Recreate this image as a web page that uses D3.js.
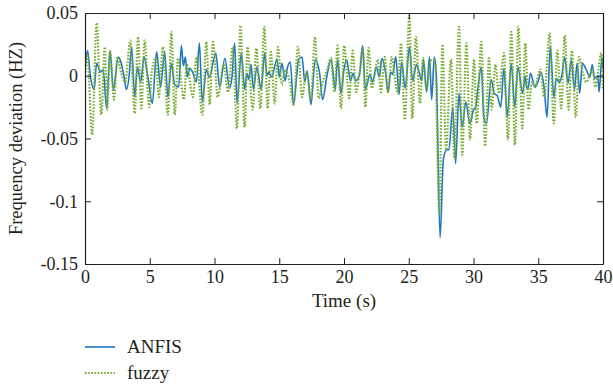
<!DOCTYPE html>
<html>
<head>
<meta charset="utf-8">
<script src="https://cdn.jsdelivr.net/npm/d3@7"></script>
<style>
  html, body { margin: 0; padding: 0; background: #fff; }
  text { font-family: "Liberation Serif", "DejaVu Serif", serif; fill: #231f20; }
</style>
</head>
<body>
<div id="chart"></div>
<script>
// ─── Data (extrema of each trace) ───────────────────────────────
const anfisT = [0,0.2,0.4,0.7,0.9,1.2,1.4,1.67,1.93,2.19,2.57,2.8,3.0,3.2,3.4,3.6,3.84,4.04,4.3,4.56,4.86,5.2,5.53,5.84,6.15,6.4,6.67,6.92,7.23,7.44,7.6,7.75,7.9,8.08,8.3,8.6,8.83,9.06,9.37,9.6,10.1,10.4,10.8,11.17,11.35,11.56,11.74,12.07,12.33,12.5,12.65,12.82,13.0,13.28,13.6,13.87,14.05,14.2,14.4,14.83,15.0,15.2,15.45,15.6,15.85,16.1,16.5,16.76,16.97,17.15,17.45,17.78,18.1,18.35,18.7,19.0,19.33,19.5,19.77,20.0,20.2,20.5,20.7,20.9,21.2,21.44,21.65,22.0,22.2,22.5,22.73,22.92,23.2,23.42,23.6,23.75,24.0,24.25,24.45,24.73,25.05,25.3,25.6,25.8,26.0,26.13,26.38,26.6,26.77,26.97,27.13,27.42,27.67,27.93,28.1,28.4,28.62,28.88,29.13,29.4,29.73,30.0,30.17,30.3,30.6,30.8,31.0,31.37,31.6,31.84,32.1,32.35,32.6,32.92,33.18,33.43,33.8,33.98,34.1,34.2,34.4,34.75,35.0,35.2,35.45,35.68,35.93,36.2,36.4,36.6,36.8,37.04,37.3,37.55,37.8,38.0,38.2,38.4,38.7,39.0,39.17,39.35,39.6,39.7,39.92,40];
const anfisV = [0.005,0.020,0.001,-0.011,0.010,0.003,0.005,-0.026,0.020,-0.011,0.015,0.010,0.0,-0.011,-0.001,0.023,-0.017,0.007,-0.005,0.015,-0.001,-0.022,0.019,-0.009,0.019,-0.017,0.010,-0.007,-0.009,0.024,0.008,0.015,-0.001,0.006,0.003,-0.005,0.026,-0.021,0.005,-0.001,0.018,-0.009,0.014,-0.010,-0.001,0.026,-0.022,0.018,-0.011,0.002,-0.003,0.009,-0.011,0.007,-0.011,0.018,0.0,0.003,-0.001,0.013,-0.001,0.010,-0.004,0.005,0.011,-0.023,0.013,0.015,-0.005,0.004,-0.023,0.013,0.003,-0.019,0.001,0.013,-0.011,0.013,-0.014,0.005,0.013,-0.004,0.002,-0.004,0.001,0.024,-0.011,0.001,-0.005,0.007,-0.001,0.014,0.003,-0.013,0.003,0.001,0.015,-0.015,0.011,-0.010,0.023,-0.004,0.009,0.003,-0.004,0.013,-0.013,0.015,-0.019,0.015,0.0,-0.129,-0.067,-0.059,-0.059,-0.025,-0.070,-0.014,-0.041,-0.021,-0.038,-0.027,-0.025,-0.014,0.007,-0.033,-0.038,-0.003,-0.014,-0.016,-0.025,0.006,-0.033,0.010,-0.025,0.007,-0.014,0.0,-0.009,-0.011,0.002,-0.009,-0.004,0.003,-0.009,-0.033,0.024,-0.017,-0.002,-0.005,-0.001,0.015,-0.006,0.013,-0.011,0.010,-0.014,0.010,0.005,-0.001,0.009,-0.002,0.0,-0.013,0.015,0.005];

const fuzzyT = [0,0.18,0.55,0.9,1.26,1.52,1.72,1.93,2.24,2.5,2.8,3.1,3.5,3.84,4.1,4.35,4.6,4.96,5.15,5.46,5.7,6.02,6.4,6.67,6.93,7.18,7.64,7.85,8.34,8.6,9.06,9.37,9.63,9.88,10.25,10.7,11.05,11.4,11.74,12.0,12.33,12.55,12.95,13.23,13.54,13.85,14.1,14.35,14.65,14.9,15.2,15.45,15.8,16.1,16.45,16.76,17.1,17.45,17.76,18.04,18.35,18.7,19.0,19.25,19.51,19.77,20.02,20.4,20.67,20.93,21.2,21.45,21.65,21.9,22.15,22.6,22.85,23.15,23.38,23.7,23.9,24.15,24.4,24.7,25.05,25.27,25.55,25.87,26.1,26.38,26.7,27.03,27.36,27.6,27.88,28.26,28.52,28.88,29.13,29.45,29.73,30.04,30.25,30.6,30.9,31.2,31.4,31.7,31.96,32.35,32.66,32.92,33.2,33.46,33.77,34.0,34.25,34.5,34.75,35.15,35.45,35.88,36.2,36.47,36.78,37.04,37.35,37.6,37.9,38.15,38.45,38.7,39.2,39.4,39.87,40];
const fuzzyV = [0.0,0.017,-0.047,0.042,-0.031,0.023,-0.027,0.020,-0.019,0.015,0.002,-0.005,0.028,-0.030,0.031,-0.026,0.028,-0.025,0.003,0.014,-0.017,0.023,-0.031,0.035,-0.031,0.014,-0.019,0.009,-0.017,0.015,-0.031,0.027,-0.023,0.027,-0.017,0.009,-0.013,0.023,-0.042,0.040,-0.041,0.023,-0.027,0.022,-0.026,0.039,-0.026,0.019,-0.022,0.023,-0.007,0.005,-0.005,-0.023,0.023,-0.017,0.003,-0.019,0.031,-0.018,-0.005,0.005,0.014,-0.013,0.024,-0.026,0.024,-0.018,0.020,-0.013,0.002,0.022,-0.025,0.022,-0.010,0.013,-0.013,0.015,-0.013,0.015,0.0,-0.014,0.026,-0.035,0.048,-0.034,0.031,-0.022,0.014,-0.011,0.012,0.013,-0.110,0.025,-0.059,0.013,-0.066,0.039,-0.063,0.026,-0.051,0.013,-0.038,0.027,-0.056,0.014,-0.027,0.009,-0.014,0.018,-0.051,0.035,-0.055,0.039,-0.042,0.026,-0.027,-0.005,-0.009,0.005,-0.017,0.034,-0.038,0.020,-0.026,0.032,-0.027,0.020,-0.033,0.015,0.002,-0.005,0.005,-0.009,0.018,-0.011];

const xTicks = [0, 5, 10, 15, 20, 25, 30, 35, 40];
const yTicks = [0.05, 0, -0.05, -0.1, -0.15];
const seriesNames = ["ANFIS", "fuzzy"];

// ─── Dimensions ─────────────────────────────────────────────────
const W = 613, H = 385;
const m = { top: 13, right: 10, bottom: 121, left: 85 };
const w = W - m.left - m.right;
const h = H - m.top - m.bottom;

const svg = d3.select("#chart").append("svg")
    .attr("width", W)
    .attr("height", H);

const g = svg.append("g")
    .attr("transform", `translate(${m.left},${m.top})`);

// ─── Scales ─────────────────────────────────────────────────────
const x = d3.scaleLinear().domain([0, 40]).range([0, w]);
const y = d3.scaleLinear().domain([-0.15, 0.05]).range([h, 0]);

const blue = "#1f77c0";
const green = "#77ac30";

// ─── Lines ──────────────────────────────────────────────────────
g.append("clipPath").attr("id", "clip")
    .append("rect").attr("width", w).attr("height", h);

const line = d3.line()
    .x(d => x(d[0]))
    .y(d => y(d[1]))
    .curve(d3.curveMonotoneX);

const anfis = anfisT.map((t, i) => [t, anfisV[i]]);
const fuzzy = fuzzyT.map((t, i) => [t, fuzzyV[i]]);

const plot = g.append("g").attr("clip-path", "url(#clip)");
plot.append("path")
    .datum(anfis)
    .attr("d", line)
    .attr("fill", "none")
    .attr("stroke", blue)
    .attr("stroke-width", 1.6);
plot.append("path")
    .datum(fuzzy)
    .attr("d", line)
    .attr("fill", "none")
    .attr("stroke", green)
    .attr("stroke-width", 2.2)
    .attr("stroke-dasharray", "1.6,1.6");

// ─── Axes (ticks inside, box on all sides) ──────────────────────
const fmtY = d => d === 0 ? "0" : String(d);

const styleAxis = sel => {
    sel.select(".domain").attr("stroke", "#231f20").attr("stroke-width", 1.2);
    sel.selectAll(".tick line").attr("stroke", "#231f20").attr("stroke-width", 1);
    sel.selectAll(".tick text").style("font-size", "18px").attr("fill", "#231f20");
};

g.append("g")
    .attr("transform", `translate(0,${h})`)
    .call(d3.axisBottom(x).tickValues(xTicks).tickSizeInner(-6).tickSizeOuter(0).tickPadding(6))
    .call(styleAxis);

g.append("g")
    .call(d3.axisTop(x).tickValues(xTicks).tickSizeInner(-6).tickSizeOuter(0).tickFormat(""))
    .call(styleAxis);

g.append("g")
    .call(d3.axisLeft(y).tickValues(yTicks).tickFormat(fmtY).tickSizeInner(-6).tickSizeOuter(0).tickPadding(7))
    .call(styleAxis);

g.append("g")
    .attr("transform", `translate(${w},0)`)
    .call(d3.axisRight(y).tickValues(yTicks).tickSizeInner(-6).tickSizeOuter(0).tickFormat(""))
    .call(styleAxis);

// ─── Axis titles ────────────────────────────────────────────────
g.append("text")
    .attr("x", w / 2)
    .attr("y", h + 43)
    .attr("text-anchor", "middle")
    .style("font-size", "19px")
    .text("Time (s)");

g.append("text")
    .attr("transform", "rotate(-90)")
    .attr("x", -h / 2)
    .attr("y", -63)
    .attr("text-anchor", "middle")
    .style("font-size", "18.5px")
    .text("Frequency deviation (HZ)");

// ─── Legend ─────────────────────────────────────────────────────
const legend = svg.append("g")
    .attr("transform", `translate(${m.left},347)`);

legend.selectAll("g")
    .data(seriesNames)
    .join("g")
    .attr("transform", (_, i) => `translate(0,${i * 26})`)
    .call(gL => {
        gL.append("line")
            .attr("x1", 0).attr("x2", 30)
            .attr("stroke", (d, i) => i === 0 ? blue : green)
            .attr("stroke-width", (d, i) => i === 0 ? 1.6 : 2.2)
            .attr("stroke-dasharray", (d, i) => i === 0 ? null : "1.6,1.6");
        gL.append("text")
            .attr("x", 42)
            .attr("y", 6)
            .style("font-size", "19px")
            .text(d => d);
    });
</script>
</body>
</html>
